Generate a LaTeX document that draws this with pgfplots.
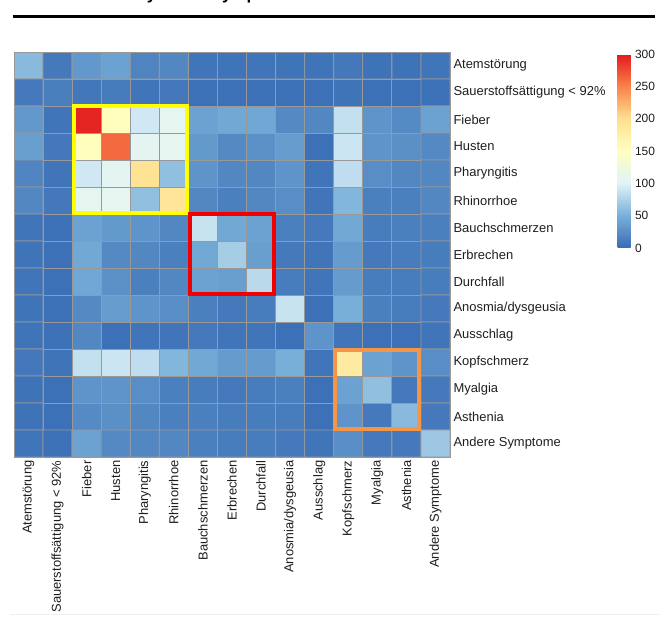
\documentclass[border=0pt]{standalone}
\usepackage{pgfplots}
\pgfplotsset{compat=1.18}
\usepackage{fontspec}
\setmainfont{Liberation Sans}
\pgfplotsset{/pgf/number format/assume math mode=true}
\definecolor{lbl}{RGB}{30,30,30}
\definecolor{boxyellow}{RGB}{255,255,0}
\definecolor{boxred}{RGB}{240,0,0}
\definecolor{boxorange}{RGB}{245,150,70}
\begin{document}
\begin{tikzpicture}
\useasboundingbox (0,0) rectangle (670bp,626bp);
\node[anchor=base west, font=\fontsize{17}{20}\selectfont\bfseries, inner sep=0pt] at (110bp,626.3bp) {Analyse der Symptome};
\draw[line width=3bp, black] (13bp,609bp) -- (655bp,609bp);
\draw[gray!12, line width=1bp] (10bp,11bp) -- (660bp,11bp);
\begin{axis}[
  at={(14bp,169bp)}, anchor=south west,
  scale only axis, width=436bp, height=405bp,
  xmin=-0.5, xmax=14.5, ymin=-0.5, ymax=14.5,
  y dir=reverse,
  xtick={0,...,14}, ytick={0,...,14},
  major tick length=0pt,
  yticklabel pos=right,
  axis line style={gray!80, line width=0.8bp},
  xticklabels={Atemstörung,Sauerstoffsättigung < 92\%,Fieber,Husten,Pharyngitis,Rhinorrhoe,Bauchschmerzen,Erbrechen,Durchfall,Anosmia/dysgeusia,Ausschlag,Kopfschmerz,Myalgia,Asthenia,Andere Symptome},
  yticklabels={Atemstörung,Sauerstoffsättigung < 92\%,Fieber,Husten,Pharyngitis,Rhinorrhoe,Bauchschmerzen,Erbrechen,Durchfall,Anosmia/dysgeusia,Ausschlag,Kopfschmerz,Myalgia,Asthenia,Andere Symptome},
  xticklabel style={rotate=90, anchor=east, font=\fontsize{13}{15}\selectfont, text=lbl},
  yticklabel style={font=\fontsize{13}{15}\selectfont, text=lbl},
  colormap={rdylbu}{rgb255(0)=(56,108,180) rgb255(50)=(120,175,216) rgb255(100)=(224,243,248) rgb255(150)=(255,255,191) rgb255(200)=(254,224,144) rgb255(250)=(249,130,75) rgb255(300)=(227,26,28)},
  point meta min=0, point meta max=300,
  colorbar,
  colorbar style={
    at={(parent axis.north east)}, anchor=north west,
    xshift=159bp, yshift=-2bp,
    width=13bp, height=194bp,
    ytick={0,50,...,300},
    major tick length=0pt,
    axis line style={draw=none},
    yticklabel style={font=\fontsize{12}{14}\selectfont, text=lbl, xshift=1bp},
  },
]
\addplot[matrix plot, mesh/cols=15, point meta=explicit, draw=gray!80, line width=0.8bp] coordinates {
(0,0)[58] (1,0)[10] (2,0)[33] (3,0)[40] (4,0)[18] (5,0)[20] (6,0)[7] (7,0)[6] (8,0)[7] (9,0)[6] (10,0)[6] (11,0)[9] (12,0)[5] (13,0)[5] (14,0)[7]
(0,1)[10] (1,1)[14] (2,1)[8] (3,1)[11] (4,1)[7] (5,1)[9] (6,1)[4] (7,1)[4] (8,1)[4] (9,1)[4] (10,1)[4] (11,1)[6] (12,1)[4] (13,1)[4] (14,1)[4]
(0,2)[33] (1,2)[7] (2,2)[295] (3,2)[152] (4,2)[92] (5,2)[108] (6,2)[40] (7,2)[45] (8,2)[44] (9,2)[22] (10,2)[20] (11,2)[86] (12,2)[30] (13,2)[23] (14,2)[40]
(0,3)[38] (1,3)[9] (2,3)[152] (3,3)[262] (4,3)[106] (5,3)[108] (6,3)[34] (7,3)[22] (8,3)[28] (9,3)[36] (10,3)[4] (11,3)[90] (12,3)[30] (13,3)[27] (14,3)[22]
(0,4)[18] (1,4)[7] (2,4)[92] (3,4)[106] (4,4)[195] (5,4)[62] (6,4)[30] (7,4)[20] (8,4)[20] (9,4)[30] (10,4)[7] (11,4)[84] (12,4)[25] (13,4)[20] (14,4)[20]
(0,5)[20] (1,5)[9] (2,5)[108] (3,5)[108] (4,5)[62] (5,5)[192] (6,5)[20] (7,5)[15] (8,5)[20] (9,5)[25] (10,5)[7] (11,5)[55] (12,5)[15] (13,5)[15] (14,5)[20]
(0,6)[7] (1,6)[4] (2,6)[40] (3,6)[34] (4,6)[30] (5,6)[20] (6,6)[88] (7,6)[45] (8,6)[40] (9,6)[15] (10,6)[10] (11,6)[45] (12,6)[12] (13,6)[15] (14,6)[15]
(0,7)[6] (1,7)[4] (2,7)[45] (3,7)[22] (4,7)[20] (5,7)[15] (6,7)[45] (7,7)[72] (8,7)[38] (9,7)[10] (10,7)[7] (11,7)[35] (12,7)[10] (13,7)[12] (14,7)[12]
(0,8)[7] (1,8)[4] (2,8)[44] (3,8)[28] (4,8)[15] (5,8)[20] (6,8)[40] (7,8)[38] (8,8)[82] (9,8)[12] (10,8)[7] (11,8)[35] (12,8)[12] (13,8)[12] (14,8)[12]
(0,9)[6] (1,9)[4] (2,9)[22] (3,9)[36] (4,9)[30] (5,9)[25] (6,9)[15] (7,9)[10] (8,9)[12] (9,9)[88] (10,9)[4] (11,9)[50] (12,9)[15] (13,9)[12] (14,9)[10]
(0,10)[6] (1,10)[4] (2,10)[20] (3,10)[4] (4,10)[7] (5,10)[7] (6,10)[10] (7,10)[7] (8,10)[7] (9,10)[4] (10,10)[30] (11,10)[7] (12,10)[4] (13,10)[4] (14,10)[7]
(0,11)[9] (1,11)[6] (2,11)[86] (3,11)[90] (4,11)[84] (5,11)[55] (6,11)[45] (7,11)[35] (8,11)[35] (9,11)[50] (10,11)[7] (11,11)[182] (12,11)[40] (13,11)[30] (14,11)[25]
(0,12)[5] (1,12)[4] (2,12)[30] (3,12)[30] (4,12)[25] (5,12)[15] (6,12)[12] (7,12)[10] (8,12)[12] (9,12)[15] (10,12)[4] (11,12)[40] (12,12)[62] (13,12)[10] (14,12)[10]
(0,13)[5] (1,13)[4] (2,13)[23] (3,13)[27] (4,13)[20] (5,13)[15] (6,13)[15] (7,13)[12] (8,13)[12] (9,13)[12] (10,13)[4] (11,13)[30] (12,13)[10] (13,13)[58] (14,13)[10]
(0,14)[7] (1,14)[4] (2,14)[40] (3,14)[22] (4,14)[20] (5,14)[20] (6,14)[15] (7,14)[12] (8,14)[12] (9,14)[10] (10,14)[7] (11,14)[25] (12,14)[10] (13,14)[10] (14,14)[68]
};
\draw[boxyellow, line width=4bp] (axis cs:1.55,1.5) rectangle (axis cs:5.45,5.45);
\draw[boxred, line width=4bp] (axis cs:5.55,5.5) rectangle (axis cs:8.45,8.45);
\draw[boxorange, line width=4bp] (axis cs:10.55,10.55) rectangle (axis cs:13.45,13.45);
\end{axis}
\end{tikzpicture}
\end{document}
